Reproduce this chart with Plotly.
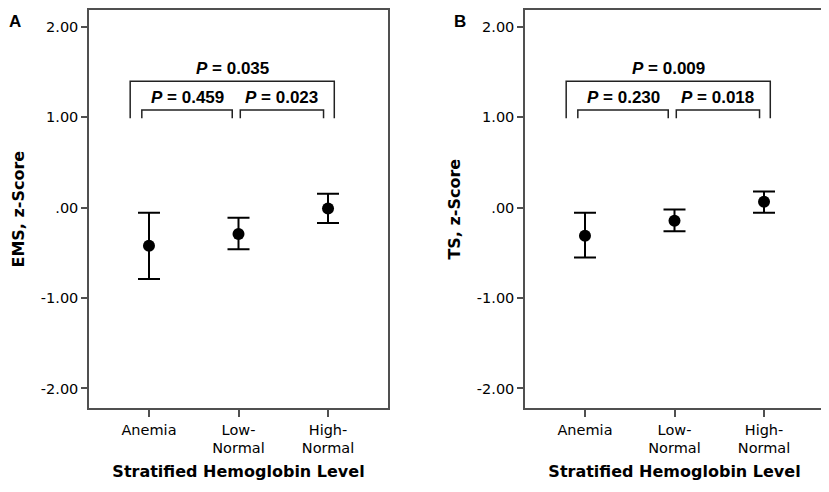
import plotly.graph_objects as go
from plotly.subplots import make_subplots

# data
categories = ["Anemia", "Low-<br>Normal", "High-<br>Normal"]
ems_mean = [-0.42, -0.29, -0.01]
ems_upper = [-0.055, -0.11, 0.155]
ems_lower = [-0.79, -0.46, -0.17]
ts_mean = [-0.31, -0.145, 0.065]
ts_upper = [-0.055, -0.02, 0.18]
ts_lower = [-0.55, -0.26, -0.055]
ems_p = ["0.459", "0.023", "0.035"]
ts_p = ["0.230", "0.018", "0.009"]
y_ticks = [2, 1, 0, -1, -2]
y_tick_labels = ["2.00", "1.00", ".00", "-1.00", "-2.00"]

TICK_FONT = dict(family="DejaVu Sans", size=14.5, color="black")
TITLE_FONT = dict(family="DejaVu Sans", size=16, color="black")
P_FONT = dict(family="Liberation Sans", size=17, color="black")
LINE_COLOR = "#505050"

# page body adds an 8px offset, domains are shifted to compensate
W, H = 829, 492
x_domains = {1: [81 / W, 380 / W], 2: [517 / W, 816 / W]}
y_domain = [1 - 400 / H, 1.0]
letter_x = {1: 7 / W, 2: 452 / W}

fig = make_subplots(rows=1, cols=2)

panels = [
    (1, ems_mean, ems_upper, ems_lower, ems_p, "EMS, z-Score", "A"),
    (2, ts_mean, ts_upper, ts_lower, ts_p, "TS, z-Score", "B"),
]

for col, mean, upper, lower, pvals, ytitle, letter in panels:
    xs = list(range(len(categories)))
    fig.add_trace(
        go.Scatter(
            x=xs,
            y=mean,
            mode="markers",
            marker=dict(color="black", size=12),
            error_y=dict(
                type="data",
                symmetric=False,
                array=[u - m for u, m in zip(upper, mean)],
                arrayminus=[m - lo for m, lo in zip(mean, lower)],
                color="black",
                thickness=2,
                width=11,
            ),
            showlegend=False,
            hoverinfo="skip",
        ),
        row=1,
        col=col,
    )
    axis_id = "" if col == 1 else "2"
    xref = f"x{axis_id}"
    yref = f"y{axis_id}"

    # significance brackets: (left, right, top, leg bottom, label)
    brackets = [
        (-0.08, 0.93, 1.08, 0.99, pvals[0]),
        (1.02, 1.95, 1.08, 0.99, pvals[1]),
        (-0.21, 2.07, 1.40, 0.99, pvals[2]),
    ]
    for x0, x1, top, bottom, p in brackets:
        fig.add_shape(
            type="path",
            path=f"M {x0},{bottom} L {x0},{top} L {x1},{top} L {x1},{bottom}",
            xref=xref,
            yref=yref,
            line=dict(color="#222222", width=1.5),
        )
        fig.add_annotation(
            x=(x0 + x1) / 2,
            y=top,
            xref=xref,
            yref=yref,
            text=f"<b><i>P</i> = {p}</b>",
            showarrow=False,
            yanchor="bottom",
            yshift=1,
            font=P_FONT,
        )

    fig.add_annotation(
        x=letter_x[col],
        y=1.0,
        xref="paper",
        yref="paper",
        text=f"<b>{letter}</b>",
        showarrow=False,
        xanchor="center",
        yanchor="top",
        font=dict(family="Liberation Sans", size=17, color="black"),
    )

    fig.update_xaxes(
        domain=x_domains[col],
        range=[-0.67, 2.67],
        tickvals=xs,
        ticktext=categories,
        ticks="outside",
        ticklen=7,
        tickcolor=LINE_COLOR,
        tickwidth=1.5,
        showline=True,
        linecolor=LINE_COLOR,
        linewidth=1.5,
        mirror=True,
        showgrid=False,
        zeroline=False,
        tickfont=TICK_FONT,
        title=dict(text="<b>Stratified Hemoglobin Level</b>", font=TITLE_FONT, standoff=10),
        row=1,
        col=col,
    )
    fig.update_yaxes(
        domain=y_domain,
        range=[-2.22, 2.187],
        tickvals=y_ticks,
        ticktext=y_tick_labels,
        ticks="outside",
        ticklen=6,
        tickcolor=LINE_COLOR,
        tickwidth=1.5,
        showline=True,
        linecolor=LINE_COLOR,
        linewidth=1.5,
        mirror=True,
        showgrid=False,
        zeroline=False,
        tickfont=TICK_FONT,
        title=dict(text=f"<b>{ytitle}</b>", font=TITLE_FONT, standoff=12),
        row=1,
        col=col,
    )

fig.update_layout(
    width=W,
    height=H,
    margin=dict(l=0, r=0, t=0, b=0),
    plot_bgcolor="white",
    paper_bgcolor="white",
)

fig.write_html("out.html")
